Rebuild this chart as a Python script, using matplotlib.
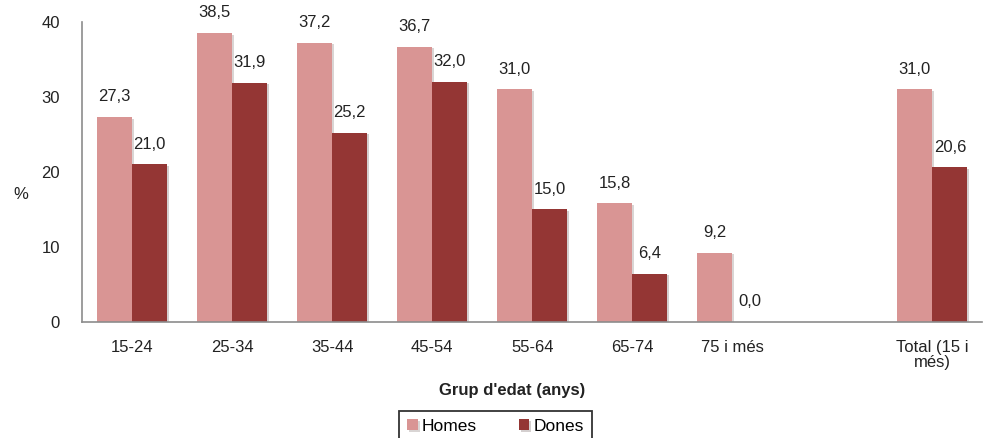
import numpy as np
import matplotlib.pyplot as plt
import matplotlib.patheffects as pe

plt.rcParams['font.family'] = ['Liberation Sans', 'DejaVu Sans']

# ---------------------------------
# Data
# ---------------------------------
groups = ["15-24", "25-34", "35-44", "45-54", "55-64", "65-74", "75 i més", "", "Total (15 i\nmés)"]
homes = [27.3, 38.5, 37.2, 36.7, 31.0, 15.8, 9.2, None, 31.0]
dones = [21.0, 31.9, 25.2, 32.0, 15.0, 6.4, 0.0, None, 20.6]

c_homes = "#D99594"
c_dones = "#943634"
txt = "#222222"

fig = plt.figure(figsize=(9.85, 4.38), dpi=100)
ax = fig.add_axes([0.0833, 0.265, 0.914, 0.685])

x = np.arange(len(groups))
w = 0.35
shadow = [pe.SimplePatchShadow(offset=(1.5, -1.0), alpha=0.2), pe.Normal()]

for i, (h, d) in enumerate(zip(homes, dones)):
    if h is None:
        continue
    ax.bar(x[i] - w / 2, h, w, color=c_homes, path_effects=shadow,
           label="Homes" if i == 0 else None)
    ax.bar(x[i] + w / 2, d, w, color=c_dones, path_effects=shadow,
           label="Dones" if i == 0 else None)
    ax.text(x[i] - w / 2, h + 2.7, f"{h:.1f}".replace(".", ","),
            ha="center", va="center", fontsize=12, color=txt)
    ax.text(x[i] + w / 2, d + 2.7, f"{d:.1f}".replace(".", ","),
            ha="center", va="center", fontsize=12, color=txt)

ax.set_xlim(-0.5, len(groups) - 0.5)
ax.set_ylim(0, 40)
ax.set_yticks([0, 10, 20, 30, 40])
ax.set_xticks(x)
ax.set_xticklabels(groups, linespacing=1.0)
ax.tick_params(axis="both", length=0, labelsize=12, colors=txt)
ax.tick_params(axis="y", pad=16)
ax.tick_params(axis="x", pad=13)

for s in ["top", "right"]:
    ax.spines[s].set_visible(False)
for s in ["left", "bottom"]:
    ax.spines[s].set_color("#8c8c8c")
    ax.spines[s].set_linewidth(1.2)

ax.set_ylabel("%", rotation=0, fontsize=12, color=txt)
ax.yaxis.set_label_coords(-0.068, 0.40)
ax.set_xlabel("Grup d'edat (anys)", fontsize=12, fontweight="bold", color=txt)
ax.xaxis.set_label_coords(0.478, -0.205)

leg = fig.legend(loc="upper center", bbox_to_anchor=(0.503, 0.0616), ncol=2,
                 fontsize=12.5, frameon=True, fancybox=False, edgecolor="black",
                 handlelength=0.6, handleheight=0.6, handletextpad=0.25,
                 columnspacing=2.4, borderpad=0.45, borderaxespad=0.0)
leg.get_frame().set_linewidth(1.3)

plt.savefig("out.png", dpi=100)
